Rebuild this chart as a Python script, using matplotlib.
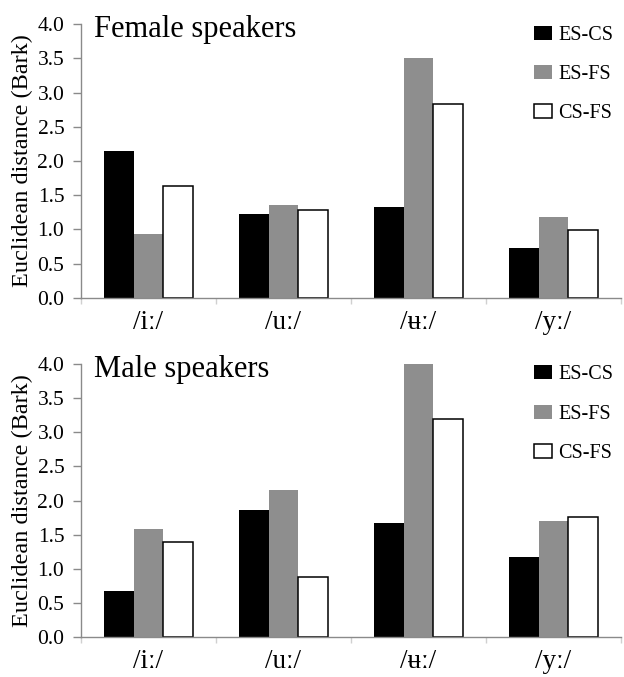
import matplotlib
matplotlib.use("Agg")
import matplotlib.pyplot as plt
import numpy as np

plt.rcParams['font.family'] = ['Liberation Serif', 'DejaVu Serif']

vowels = ["/iː/", "/uː/", "/ʉː/", "/yː/"]
series = ["ES-CS", "ES-FS", "CS-FS"]

female_es_cs = [2.14, 1.23, 1.32, 0.73]
female_es_fs = [0.93, 1.35, 3.50, 1.18]
female_cs_fs = [1.64, 1.29, 2.84, 0.99]

male_es_cs = [0.67, 1.86, 1.67, 1.17]
male_es_fs = [1.58, 2.15, 4.00, 1.70]
male_cs_fs = [1.39, 0.88, 3.20, 1.76]

panels = [("Female speakers", [female_es_cs, female_es_fs, female_cs_fs]),
          ("Male speakers", [male_es_cs, male_es_fs, male_cs_fs])]
yticks = [0.0, 0.5, 1.0, 1.5, 2.0, 2.5, 3.0, 3.5, 4.0]

face = ["#000000", "#8e8e8e", "#ffffff"]
edge = ["#000000", "#8e8e8e", "#000000"]
lws = [0, 0, 1.1]
spine_col = "#8a8a8a"

fig = plt.figure(figsize=(6.24, 6.77), dpi=100)
left, right = 0.1298, 0.9952
boxes = [(0.5603, 0.9641), (0.0591, 0.4623)]

bw = 0.222
offsets = [-0.222, 0.0, 0.222]

for (title, data), (b, t) in zip(panels, boxes):
    ax = fig.add_axes([left, b, right - left, t - b])
    x = np.arange(len(vowels)) + 0.5
    for k in range(3):
        ax.bar(x + offsets[k], data[k], width=bw, color=face[k],
               edgecolor=edge[k], linewidth=lws[k], label=series[k], zorder=2)
    ax.set_xlim(0, len(vowels))
    ax.set_ylim(0, 4.0)
    ax.set_yticks(yticks)
    ax.set_yticklabels([f"{v:.1f}" for v in yticks], fontsize=15.5)
    ax.set_xticks(x)
    ax.set_xticklabels(vowels, fontsize=19.5)
    ax.set_xticks(np.arange(len(vowels) + 1), minor=True)
    ax.tick_params(axis='x', which='major', length=0, pad=9)
    ax.tick_params(axis='x', which='minor', length=4, color="#d0d0d0", width=1)
    ax.tick_params(axis='y', which='major', length=6, color=spine_col, width=1, pad=6)
    for s in ['top', 'right']:
        ax.spines[s].set_visible(False)
    for s in ['left', 'bottom']:
        ax.spines[s].set_color(spine_col)
        ax.spines[s].set_linewidth(1)
    ax.set_ylabel("Euclidean distance (Bark)", fontsize=17.5, labelpad=3)
    ax.text(0.024, 0.953, title, transform=ax.transAxes, fontsize=22,
            va='baseline', ha='left')
    ax.legend(loc='upper left', bbox_to_anchor=(0.839, 0.995), frameon=False,
              fontsize=14.5, handlelength=0.9, handleheight=0.7,
              handletextpad=0.3, labelspacing=1.0, borderpad=0,
              borderaxespad=0)

fig.savefig("out.png", dpi=100)
